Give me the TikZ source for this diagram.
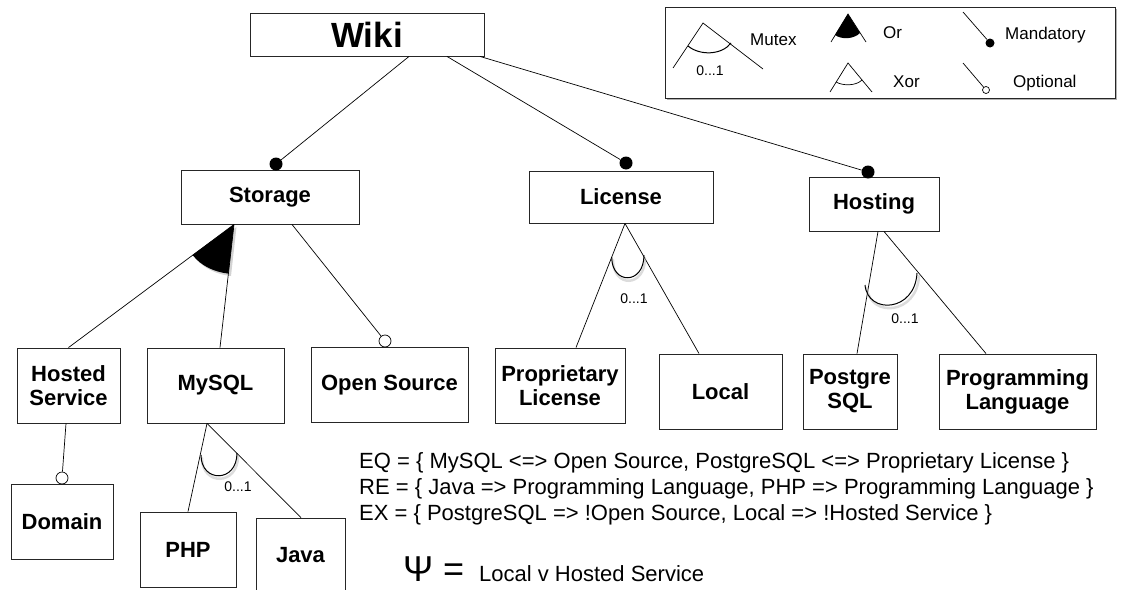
\documentclass[tikz,border=0pt]{standalone}
\usepackage{fontspec}
\setmainfont{Liberation Sans}
\usetikzlibrary{calc,shadows}
\begin{document}
\begin{tikzpicture}[x=1pt,y=-1pt,
  box/.style={draw=black!85, line width=0.9pt, rectangle, inner sep=0pt, align=center,
              font=\fontsize{22}{24}\selectfont\bfseries},
  conn/.style={draw=black, line width=0.7pt},
  mand/.style={circle, fill=black, inner sep=0pt, minimum size=13pt},
  opt/.style={circle, draw=black, fill=white, line width=0.7pt, inner sep=0pt, minimum size=12pt},
  card/.style={font=\fontsize{14}{16}\selectfont, inner sep=0pt},
  legtext/.style={font=\fontsize{17}{19}\selectfont, anchor=west, inner sep=0pt},
  rule/.style={font=\fontsize{22}{24}\selectfont, anchor=base west, inner sep=0pt},
  ushadow/.style={draw=black!30, line width=2.5pt, opacity=0.45, line cap=round},
  mutexarc/.style={draw=black, line width=1pt}
]
\useasboundingbox (0,0) rectangle (1124,589);

% ---------- legend ----------
\node[draw=black!85, line width=0.9pt, fill=white, minimum width=450pt, minimum height=91pt,
      drop shadow={shadow xshift=2pt, shadow yshift=-2pt, fill=black!60, opacity=0.5}]
      (legend) at (890,52.5) {};
% mutex
\coordinate (lmA) at (703,23);
\coordinate (lmL) at (673,68);
\coordinate (lmR) at (763,69);
\draw[conn] (lmL) -- (lmA) -- (lmR);
\draw[mutexarc] (688,46) .. controls (700,56) and (722,55) .. (731,43);
\node[legtext] (lmutex) at (750,40) {Mutex};
\node[card] (lcard) at (710,71) {0...1};
% or
\coordinate (loA) at (848,14);
\coordinate (loL) at (831,42);
\coordinate (loR) at (866,42);
\draw[conn] (loL) -- (loA) -- (loR);
\fill[black] (loA) -- (835,35) .. controls (842,40) and (854,39) .. (860,33) -- cycle;
\node[legtext] (lor) at (883,33) {Or};
% xor
\coordinate (lxA) at (848,63);
\coordinate (lxL) at (830,92);
\coordinate (lxR) at (872,92);
\draw[conn] (lxL) -- (lxA) -- (lxR);
\draw[conn] (836,82) .. controls (843,86) and (856,86) .. (862,80);
\node[legtext] (lxor) at (893,82) {Xor};
% mandatory
\coordinate (lmS) at (963,12);
\node[circle, fill=black, inner sep=0pt, minimum size=9pt] (lmD) at (990,43) {};
\draw[conn] (lmS) -- (lmD);
\node[legtext] (lmand) at (1005,35) {Mandatory};
% optional
\coordinate (loS) at (963,63);
\node[circle, draw=black, fill=white, line width=0.7pt, inner sep=0pt, minimum size=7pt] (loD) at (986,90) {};
\draw[conn] (loS) -- (loD);
\node[legtext] (lopt) at (1013,83) {Optional};

% ---------- feature boxes ----------
\node[box, minimum width=234pt, minimum height=43pt, font=\fontsize{35}{38}\selectfont\bfseries] (wiki) at (367,34.5) {Wiki};
\node[box, minimum width=178pt, minimum height=54pt] (storage) at (270,197) {Storage};
\node[box, minimum width=184pt, minimum height=52pt] (license) at (621,197) {License};
\node[box, minimum width=130pt, minimum height=54pt] (hosting) at (874,204) {Hosting};

\node[box, minimum width=103pt, minimum height=75pt] (hosted) at (68.5,385.5) {Hosted\\Service};
\node[box, minimum width=137pt, minimum height=75pt] (mysql) at (215.5,385.5) {MySQL};
\node[box, minimum width=157pt, minimum height=75pt] (opensrc) at (389.5,385) {Open Source};
\node[box, minimum width=130pt, minimum height=75pt] (proplic) at (560,385.5) {Proprietary\\License};
\node[box, minimum width=123pt, minimum height=75pt] (local) at (720.5,391.5) {Local};
\node[box, minimum width=94pt, minimum height=75pt] (postgre) at (850,391.5) {Postgre\\SQL};
\node[box, minimum width=157pt, minimum height=75pt] (proglang) at (1017.5,391.5) {Programming\\Language};
\node[box, minimum width=102pt, minimum height=75pt] (domain) at (62,521.5) {Domain};
\node[box, minimum width=96pt, minimum height=75pt] (php) at (188,549.5) {PHP};
\node[box, minimum width=89pt, minimum height=75pt] (java) at (300.5,555.5) {Java};

% ---------- mandatory children of Wiki ----------
\node[mand] (dS) at (276,164) {};
\node[mand] (dL) at (626,163) {};
\node[mand] (dH) at (868,172) {};
\draw[conn] ([xshift=42pt]wiki.south) -- (dS);
\draw[conn] ([xshift=80pt]wiki.south) -- (dL);
\draw[conn] ([xshift=113pt]wiki.south) -- (dH);

% ---------- Storage: or-group + optional ----------
\coordinate (sA) at ([xshift=-36pt]storage.south);
\coordinate (sB) at ([xshift=22pt]storage.south);
\coordinate (hsT) at (hosted.north);
\coordinate (myT) at ([xshift=4.5pt]mysql.north);
\fill[black!50, opacity=0.35] ([xshift=2.5pt,yshift=-2.5pt]sA) -- (195,257.5) .. controls (203.4,268.5) and (217.2,274.6) .. (231,276) -- cycle;
\draw[conn] (sA) -- (hsT);
\draw[conn] (sA) -- (myT);
\fill[black] (sA) -- (192.6,255) .. controls (200.9,266) and (214.7,272.1) .. (228.4,273.6) -- cycle;
\node[opt] (oOS) at (385,341) {};
\draw[conn] (sB) -- (oOS);

% ---------- Hosted Service -> Domain (optional) ----------
\node[opt] (oDom) at (62,478) {};
\draw[conn] ([xshift=-2.5pt]hosted.south) -- (oDom);

% ---------- MySQL mutex ----------
\coordinate (mA) at ([xshift=-8.5pt]mysql.south);
\draw[conn] (mA) -- (php.north);
\draw[conn] (mA) -- ([xshift=0.5pt]java.north);
\draw[ushadow] (202,458) .. controls (202,486) and (238,486) .. (238,456);
\draw[mutexarc] (201,455) .. controls (201,483) and (237,483) .. (237,453);
\node[card] (mcard) at (238,487) {0...1};

% ---------- License mutex ----------
\coordinate (lA) at ([xshift=4pt]license.south);
\draw[conn] (lA) -- ([xshift=16pt]proplic.north);
\draw[conn] (lA) -- ([xshift=-21.5pt]local.north);
\draw[ushadow] (613,260) .. controls (613,288) and (645,288) .. (645,258);
\draw[mutexarc] (611.7,257) .. controls (611.7,285) and (644,285) .. (644,255);
\node[card] (lcard2) at (634,299) {0...1};

% ---------- Hosting mutex ----------
\draw[conn] ([xshift=4pt]hosting.south) -- ([xshift=7pt]postgre.north);
\draw[conn] ([xshift=10pt]hosting.south) -- ([xshift=-31.5pt]proglang.north);
\draw[ushadow] (867,288) .. controls (870,318) and (917,315) .. (919,276);
\draw[mutexarc] (865,285) .. controls (868,315) and (915,312) .. (917,273);
\node[card] (hcard) at (905,319) {0...1};

% ---------- constraints ----------
\node[rule] (eq) at (359,468) {EQ = \{ MySQL <=> Open Source, PostgreSQL <=> Proprietary License \}};
\node[rule] (re) at (359,494) {RE = \{ Java => Programming Language, PHP => Programming Language \}};
\node[rule] (ex) at (359,520) {EX = \{ PostgreSQL => !Open Source, Local => !Hosted Service \}};
\node[font=\fontsize{36}{38}\selectfont, anchor=base west, inner sep=0pt] (psi) at (403,581) {Ψ =};
\node[rule] (psitext) at (479,581) {Local v Hosted Service};
\end{tikzpicture}
\end{document}
